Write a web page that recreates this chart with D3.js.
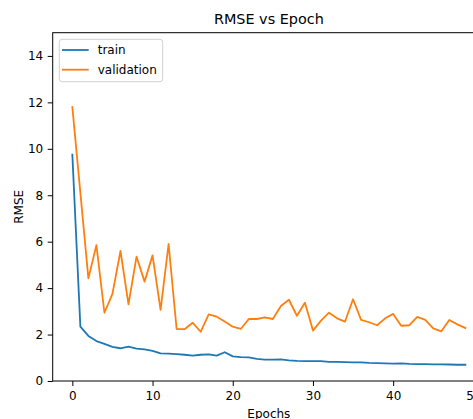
<!DOCTYPE html>
<html>
<head>
<meta charset="utf-8">
<script src="https://cdn.jsdelivr.net/npm/d3@7"></script>
<style>
  html, body { margin: 0; padding: 0; background: #fff; overflow: hidden; }
  text { font-family: "DejaVu Sans", sans-serif; }
</style>
</head>
<body>
<svg id="chart" width="473" height="419"></svg>
<script>
const epochs = d3.range(0, 50);
const trainRMSE = [9.75, 2.34, 1.94, 1.72, 1.60, 1.47, 1.41, 1.48, 1.39, 1.36,
  1.30, 1.19, 1.18, 1.16, 1.13, 1.09, 1.13, 1.15, 1.09, 1.24,
  1.06, 1.03, 1.02, 0.95, 0.92, 0.92, 0.93, 0.89, 0.87, 0.86,
  0.86, 0.86, 0.82, 0.82, 0.81, 0.80, 0.80, 0.78, 0.77, 0.76,
  0.75, 0.76, 0.74, 0.73, 0.73, 0.72, 0.72, 0.71, 0.70, 0.70];
const validationRMSE = [11.8, 8.1, 4.42, 5.85, 2.94, 3.75, 5.60, 3.30, 5.36, 4.28,
  5.41, 3.06, 5.90, 2.24, 2.23, 2.51, 2.12, 2.87, 2.77, 2.56,
  2.34, 2.24, 2.67, 2.67, 2.74, 2.67, 3.23, 3.50, 2.81, 3.37,
  2.17, 2.60, 2.94, 2.70, 2.56, 3.52, 2.63, 2.53, 2.40, 2.70,
  2.89, 2.38, 2.40, 2.76, 2.63, 2.27, 2.14, 2.63, 2.44, 2.28];
const xTicks = [0, 10, 20, 30, 40, 50];
const yTicks = [0, 2, 4, 6, 8, 10, 12, 14];
const seriesNames = ["train", "validation"];
const seriesColors = ["#1f77b4", "#ff7f0e"];

const svg = d3.select("#chart");
const pL = 52.7, pR = 485, pT = 32.7, pB = 381;

const x = d3.scaleLinear().domain([-2.45, 51.45]).range([pL, pR]);
const y = d3.scaleLinear().domain([0, 15]).range([pB, pT]);

// frame
svg.append("rect")
  .attr("x", pL).attr("y", pT)
  .attr("width", pR - pL).attr("height", pB - pT)
  .attr("fill", "none").attr("stroke", "#000").attr("stroke-width", 1);

// axes
const xAxis = svg.append("g")
  .attr("transform", `translate(0,${pB})`)
  .call(d3.axisBottom(x).tickValues(xTicks).tickFormat(d3.format("d")).tickSize(5).tickPadding(5));
const yAxis = svg.append("g")
  .attr("transform", `translate(${pL},0)`)
  .call(d3.axisLeft(y).tickValues(yTicks).tickFormat(d3.format("d")).tickSize(5).tickPadding(4.5));
[xAxis, yAxis].forEach(g => {
  g.select(".domain").remove();
  g.selectAll("line").attr("stroke", "#000").attr("stroke-width", 1);
  g.selectAll("text").attr("font-size", 12).attr("fill", "#000")
    .attr("font-family", "DejaVu Sans, sans-serif");
});

// lines
const line = d3.line().x((d, i) => x(epochs[i])).y(d => y(d));
[trainRMSE, validationRMSE].forEach((s, k) => {
  svg.append("path")
    .datum(s)
    .attr("d", line)
    .attr("fill", "none")
    .attr("stroke", seriesColors[k])
    .attr("stroke-width", 1.8)
    .attr("stroke-linejoin", "round")
    .attr("stroke-linecap", "square");
});

// title and labels
svg.append("text")
  .attr("x", (pL + pR) / 2).attr("y", 24)
  .attr("text-anchor", "middle").attr("font-size", 14.4)
  .text("RMSE vs Epoch");
svg.append("text")
  .attr("x", (pL + pR) / 2).attr("y", 418)
  .attr("text-anchor", "middle").attr("font-size", 12)
  .text("Epochs");
svg.append("text")
  .attr("transform", `translate(23,${(pT + pB) / 2}) rotate(-90)`)
  .attr("text-anchor", "middle").attr("font-size", 12)
  .text("RMSE");

// legend
const lg = svg.append("g");
lg.append("rect")
  .attr("x", 59.3).attr("y", 39.3).attr("width", 103.4).attr("height", 42.4)
  .attr("rx", 3).attr("fill", "#fff").attr("fill-opacity", 0.8)
  .attr("stroke", "#d0d0d0").attr("stroke-width", 1);
seriesNames.forEach((name, k) => {
  const yy = 50 + k * 19.7;
  lg.append("line")
    .attr("x1", 62).attr("x2", 88.7).attr("y1", yy).attr("y2", yy)
    .attr("stroke", seriesColors[k]).attr("stroke-width", 1.8);
  lg.append("text")
    .attr("x", 97.7).attr("y", yy + 4.3)
    .attr("font-size", 12).attr("fill", "#000")
    .text(name);
});
</script>
</body>
</html>
